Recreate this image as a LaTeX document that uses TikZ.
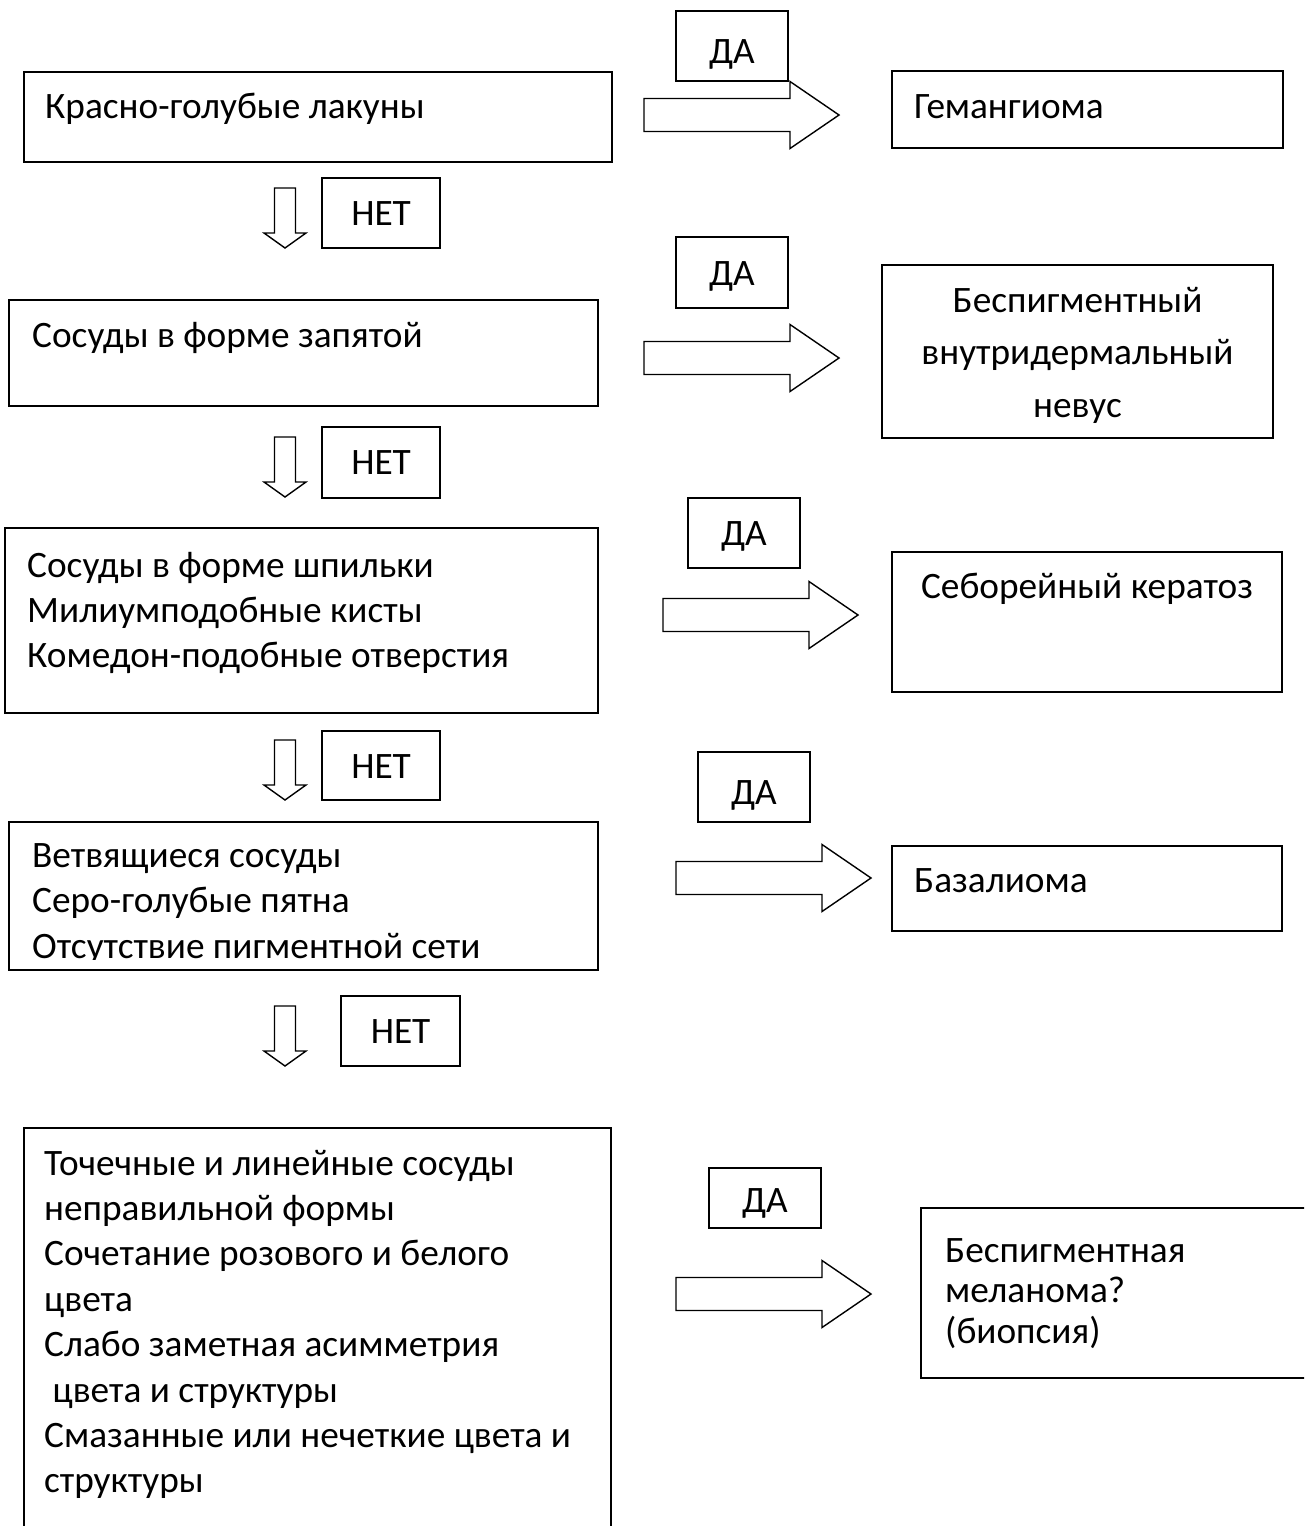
\documentclass[tikz,border=0pt]{standalone}
\usepackage{fontspec}
\setmainfont{Carlito}
\usetikzlibrary{fit}
\newcommand\fs{\fontsize{37.3}{45.4}\selectfont}
\tikzset{
  box/.style={draw=black, line width=1.4pt, inner sep=0pt},
  txt/.style={inner sep=0pt, font=\fs},
  rarr/.pic={\draw[line width=1.4pt] (0,-16.5) -- (146,-16.5) -- (146,-33.5) -- (195,0) -- (146,33.5) -- (146,16.5) -- (0,16.5) -- cycle;},
  darr/.pic={\draw[line width=1.4pt] (-10.5,0) -- (10.5,0) -- (10.5,45) -- (21,45) -- (0,60) -- (-21,45) -- (-10.5,45) -- cycle;},
}
\begin{document}
\begin{tikzpicture}[x=1pt,y=-1pt]
\useasboundingbox (0,0) rectangle (1304,1526);
\clip (0,0) rectangle (1304,1526);
\fill[white] (0,0) rectangle (1304,1526);

% left column boxes
\node[box, fit={(24,72) (612,162)}] (b1) {};
\node[txt, anchor=base west] (t1) at (45,118) {Красно-голубые лакуны};

\node[box, fit={(9,300) (598,406)}] (b2) {};
\node[txt, anchor=base west] (t2) at (32,347) {Сосуды в форме запятой};

\node[box, fit={(5,528) (598,713)}] (b3) {};
\node[txt, anchor=base west] (t3) at (27,577) {\parbox[t]{560pt}{\fontsize{37.3}{45}\selectfont\raggedright Сосуды в форме шпильки\\Милиумподобные кисты\\Комедон-подобные отверстия}};

\node[box, fit={(9,822) (598,970)}] (b4) {};
\begin{scope}
\clip (9,822) rectangle (598,959);
\node[txt, anchor=base west] (t4) at (32,867) {\parbox[t]{560pt}{\fontsize{37.3}{45.5}\selectfont\raggedright Ветвящиеся сосуды\\Серо-голубые пятна\\Отсутствие пигментной сети}};
\end{scope}

\node[box, fit={(24,1128) (611,1560)}] (b5) {};
\node[txt, anchor=base west] (t5) at (44,1175) {\parbox[t]{560pt}{\fontsize{37.3}{45.4}\selectfont\raggedright Точечные и линейные сосуды\\неправильной формы\\Сочетание розового и белого\\цвета\\Слабо заметная асимметрия\\\ цвета и структуры\\Смазанные или нечеткие цвета и\\структуры}};

% НЕТ boxes and down arrows
\node[box, fit={(322,178) (440,248)}] (n1) {};
\node[txt, anchor=base] (n1t) at (381,225) {НЕТ};
\pic at (285,188) {darr};

\node[box, fit={(322,427) (440,498)}] (n2) {};
\node[txt, anchor=base] (n2t) at (381,474) {НЕТ};
\pic at (285,437) {darr};

\node[box, fit={(322,731) (440,800)}] (n3) {};
\node[txt, anchor=base] (n3t) at (381,778) {НЕТ};
\pic at (285,740) {darr};

\node[box, fit={(341,996) (460,1066)}] (n4) {};
\node[txt, anchor=base] (n4t) at (400.5,1043) {НЕТ};
\pic at (285,1006) {darr};

% ДА boxes and right arrows
\node[box, fit={(676,11) (788,81)}] (d1) {};
\node[txt, anchor=base] (d1t) at (732,63) {ДА};
\pic at (644,115) {rarr};

\node[box, fit={(676,237) (788,308)}] (d2) {};
\node[txt, anchor=base] (d2t) at (732,285) {ДА};
\pic at (644,358) {rarr};

\node[box, fit={(688,498) (800,568)}] (d3) {};
\node[txt, anchor=base] (d3t) at (744,545) {ДА};
\pic at (663,615) {rarr};

\node[box, fit={(698,752) (810,822)}] (d4) {};
\node[txt, anchor=base] (d4t) at (754,804) {ДА};
\pic at (676,878) {rarr};

\node[box, fit={(709,1168) (821,1228)}] (d5) {};
\node[txt, anchor=base] (d5t) at (765,1212) {ДА};
\pic at (676,1294) {rarr};

% right column boxes
\node[box, fit={(892,71) (1283,148)}] (r1) {};
\node[txt, anchor=base west] (r1t) at (914,118) {Гемангиома};

\node[box, fit={(882,265) (1273,438)}] (r2) {};
\node[txt, anchor=base] (r2t) at (1077.5,312) {\parbox[t]{380pt}{\fontsize{37.3}{52.5}\selectfont\centering Беспигментный\\внутридермальный\\невус}};

\node[box, fit={(892,552) (1282,692)}] (r3) {};
\node[txt, anchor=base] (r3t) at (1087,598) {Себорейный кератоз};

\node[box, fit={(892,846) (1282,931)}] (r4) {};
\node[txt, anchor=base west] (r4t) at (914,892) {Базалиома};

\node[box, fit={(921,1208) (1316,1378)}] (r5) {};
\node[txt, anchor=base west] (r5t) at (945,1262) {\parbox[t]{340pt}{\fontsize{37.3}{40.5}\selectfont\raggedright Беспигментная\\меланома?\\(биопсия)}};
\end{tikzpicture}
\end{document}
